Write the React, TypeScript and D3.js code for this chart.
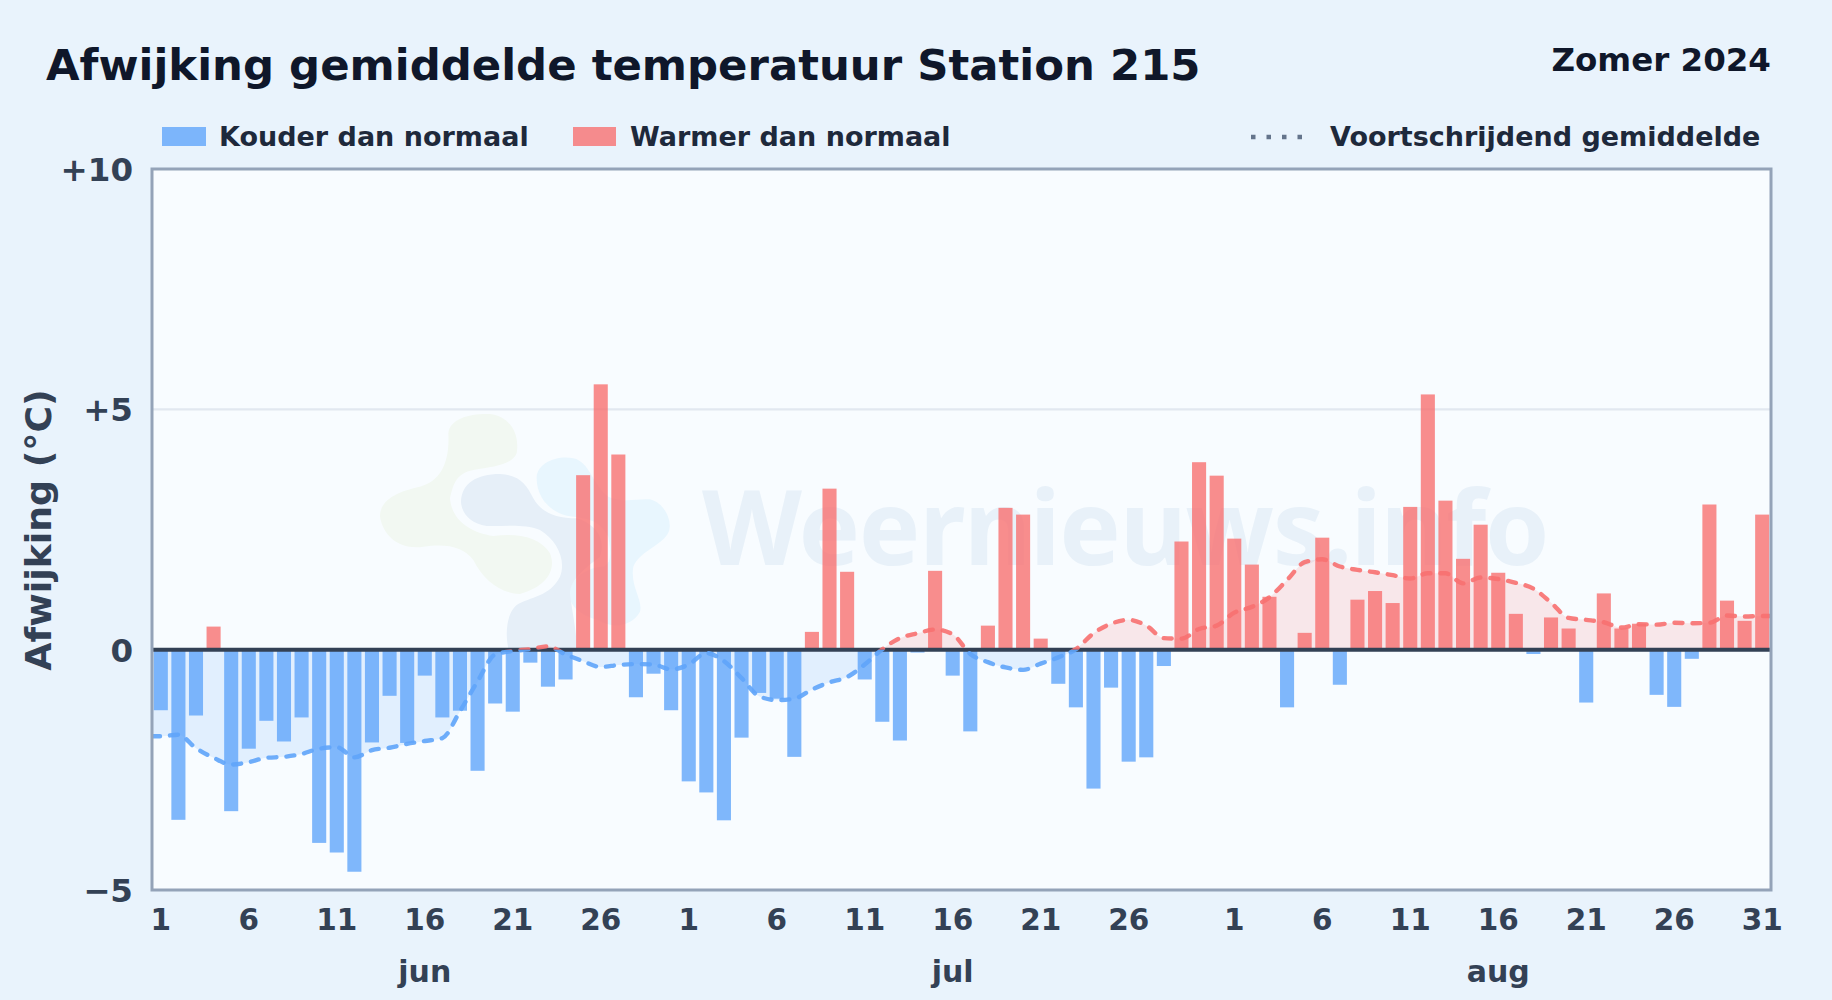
import React from "react";
import * as d3 from "d3";

const dayLabels: number[] = [
  ...d3.range(1, 31), ...d3.range(1, 32), ...d3.range(1, 32),
];
const anomalies: number[] = [
  -1.26, -3.54, -1.37, 0.48, -3.36, -2.06, -1.48, -1.91, -1.41, -4.02,
  -4.22, -4.62, -1.93, -0.96, -1.94, -0.54, -1.41, -1.27, -2.52, -1.12,
  -1.29, -0.27, -0.77, -0.62, 3.63, 5.52, 4.06, -0.99, -0.5, -1.26,
  -2.74, -2.97, -3.55, -1.83, -0.9, -1.02, -2.23, 0.37, 3.35, 1.62,
  -0.62, -1.5, -1.89, -0.06, 1.64, -0.54, -1.7, 0.5, 2.95, 2.81,
  0.23, -0.71, -1.2, -2.89, -0.79, -2.33, -2.24, -0.34, 2.25, 3.9, 3.62,
  2.31, 1.77, 1.1, -1.2, 0.35, 2.33, -0.73, 1.04, 1.22, 0.97,
  2.97, 5.31, 3.1, 1.89, 2.6, 1.6, 0.745, -0.09, 0.67, 0.44,
  -1.1, 1.17, 0.44, 0.54, -0.94, -1.19, -0.19, 3.02, 1.02, 0.6, 2.81,
];
const movingAverage: number[] = [
  -1.8, -1.77, -2.05, -2.25, -2.39, -2.34, -2.25, -2.23, -2.17, -2.06,
  -2.03, -2.24, -2.09, -2.04, -1.96, -1.9, -1.84, -1.28, -0.66, -0.1,
  -0.03, 0.01, 0.07, -0.1, -0.24, -0.36, -0.32, -0.3, -0.31, -0.41,
  -0.31, -0.07, -0.24, -0.59, -0.97, -1.05, -1.02, -0.83, -0.68, -0.57,
  -0.31, 0.01, 0.24, 0.34, 0.42, 0.32, -0.09, -0.26, -0.37, -0.42,
  -0.29, -0.16, 0.01, 0.34, 0.54, 0.62, 0.5, 0.24, 0.23, 0.43, 0.5,
  0.77, 0.89, 1.09, 1.45, 1.82, 1.88, 1.73, 1.66, 1.61, 1.55,
  1.48, 1.59, 1.59, 1.38, 1.5, 1.47, 1.39, 1.27, 0.98, 0.66,
  0.62, 0.57, 0.46, 0.53, 0.52, 0.56, 0.55, 0.56, 0.71, 0.69, 0.7,
];
const yTicks: number[] = [-5, 0, 5, 10];
const yTickLabels: string[] = ["−5", "0", "+5", "+10"];
const xTickIndexes: number[] = d3.range(0, 92).filter((i) => (dayLabels[i] - 1) % 5 === 0 && !(dayLabels[i] === 31 && i < 61));
const monthLabels: string[] = ["jun", "jul", "aug"];
const monthCenterIndexes: number[] = [15, 45, 76];

const W = 1832, H = 1000;
const L = 152, R = 1771, T = 169, B = 890;
const BLUE = "#60a5fa", RED = "#f87171";
const FONT = "'DejaVu Sans', sans-serif";

export default function App() {
  const x = d3.scaleBand<number>().domain(d3.range(92)).range([L, R]).paddingInner(0.2).paddingOuter(0.1);
  const y = d3.scaleLinear().domain([-5, 10]).range([B, T]);
  const cx = (i: number) => (x(i) as number) + x.bandwidth() / 2;
  const pts: [number, number][] = [
    [L, movingAverage[0]],
    ...movingAverage.map((v, i) => [cx(i), v] as [number, number]),
    [R, movingAverage[movingAverage.length - 1]],
  ];
  const line = d3.line<[number, number]>().x((d) => d[0]).y((d) => y(d[1])).curve(d3.curveMonotoneX);
  const area = d3.area<[number, number]>().x((d) => d[0]).y0(y(0)).y1((d) => y(d[1])).curve(d3.curveMonotoneX);
  const linePath = line(pts) as string;
  const areaPath = area(pts) as string;

  return (
    <svg width={W} height={H} viewBox={`0 0 ${W} ${H}`} style={{ position: "fixed", left: 0, top: 0, display: "block" }} fontFamily={FONT}>
      <defs>
        <clipPath id="above"><rect x={L} y={T} width={R - L} height={y(0) - T} /></clipPath>
        <clipPath id="below"><rect x={L} y={y(0)} width={R - L} height={B - y(0)} /></clipPath>
        <clipPath id="plot"><rect x={L} y={T} width={R - L} height={B - T} /></clipPath>
      </defs>
      <rect width={W} height={H} fill="#e9f3fc" />
      <text x={46} y={80} fontSize={43.4} fontWeight={700} fill="#0f172a">Afwijking gemiddelde temperatuur Station 215</text>
      <text x={1771} y={71} fontSize={32.5} fontWeight={700} fill="#0f172a" textAnchor="end">Zomer 2024</text>

      <rect x={162} y={127} width={44} height={19} fill={BLUE} opacity={0.8} />
      <text x={219} y={146} fontSize={27} fontWeight={700} fill="#1e293b">Kouder dan normaal</text>
      <rect x={573} y={127} width={43} height={19} fill={RED} opacity={0.8} />
      <text x={630} y={146} fontSize={27} fontWeight={700} fill="#1e293b">Warmer dan normaal</text>
      <line x1={1251} x2={1308} y1={137} y2={137} stroke="#64748b" strokeWidth={4.5} strokeDasharray="4.5 11" />
      <text x={1330} y={146} fontSize={27} fontWeight={700} fill="#1e293b">Voortschrijdend gemiddelde</text>

      <rect x={L} y={T} width={R - L} height={B - T} fill="#f8fcff" />
      <line x1={L} x2={R} y1={y(5)} y2={y(5)} stroke="#e2e8f0" strokeWidth={2.2} />

      <g transform="translate(360 390) scale(0.3333)">
        <path fill="#f2f8f2" d="M265,130 C270,85 330,70 390,72 C450,80 480,130 470,190 C455,225 400,230 340,240 C290,250 280,280 270,325 C275,390 330,428 400,438 C470,428 540,440 570,490 C590,540 560,590 480,612 C420,610 370,570 340,510 C310,470 260,460 190,470 C120,480 70,440 60,380 C60,330 110,305 180,290 C240,275 270,220 265,130 Z" />
        <path fill="#e8f6fe" d="M530,265 C530,220 590,195 640,205 C690,215 700,290 745,320 C790,340 830,325 870,328 C915,340 935,390 928,420 C915,465 840,480 820,530 C810,590 850,630 840,665 C820,705 760,720 715,690 C670,680 625,650 628,610 C630,570 680,530 730,530 C760,520 750,470 745,440 C720,390 680,385 640,380 C580,375 530,330 530,265 Z" />
        <path fill="#e6eff8" d="M303,335 C305,280 350,252 420,252 C480,255 500,285 520,325 C545,370 590,385 650,385 C700,400 740,440 720,500 C680,530 630,570 630,610 C635,660 650,720 650,775 L445,775 C435,730 440,670 470,645 C510,620 570,620 600,560 C620,510 590,450 540,420 C490,400 430,410 380,408 C330,400 305,370 303,335 Z" />
        <text x={1026} y={526} fontSize={310} fontWeight={700} fill="#e8f1f9" fontFamily="'Noto Sans', sans-serif" letterSpacing={-4}>Weernieuws.info</text>
      </g>

      <g clipPath="url(#plot)">
        <path d={areaPath} clipPath="url(#above)" fill={RED} opacity={0.15} />
        <path d={areaPath} clipPath="url(#below)" fill={BLUE} opacity={0.15} />
      </g>

      {anomalies.map((v, i) => (
        <rect key={i} x={x(i)} width={x.bandwidth()} y={y(Math.max(v, 0))} height={Math.abs(y(v) - y(0))} fill={v >= 0 ? RED : BLUE} opacity={0.8} />
      ))}

      <line x1={L} x2={R} y1={y(0)} y2={y(0)} stroke="#334155" strokeWidth={4} />

      <g fill="none" strokeWidth={4.4} strokeDasharray="8 10" strokeLinecap="round" opacity={0.9}>
        <path d={linePath} stroke={RED} clipPath="url(#above)" />
        <path d={linePath} stroke={BLUE} clipPath="url(#below)" />
      </g>

      <rect x={L} y={T} width={R - L} height={B - T} fill="none" stroke="#94a3b8" strokeWidth={3} />

      {yTicks.map((t, i) => (
        <text key={t} x={133} y={y(t) + 12} fontSize={32.5} fontWeight={700} fill="#334155" textAnchor="end">{yTickLabels[i]}</text>
      ))}
      {xTickIndexes.map((i) => (
        <text key={i} x={cx(i)} y={930} fontSize={29.5} fontWeight={700} fill="#334155" textAnchor="middle">{dayLabels[i]}</text>
      ))}
      {monthLabels.map((m, k) => (
        <text key={m} x={cx(monthCenterIndexes[k])} y={982} fontSize={30} fontWeight={700} fill="#334155" textAnchor="middle">{m}</text>
      ))}
      <text transform="translate(50.5 530) rotate(-90)" fontSize={36.3} fontWeight={700} fill="#334155" textAnchor="middle">Afwijking (°C)</text>
    </svg>
  );
}
